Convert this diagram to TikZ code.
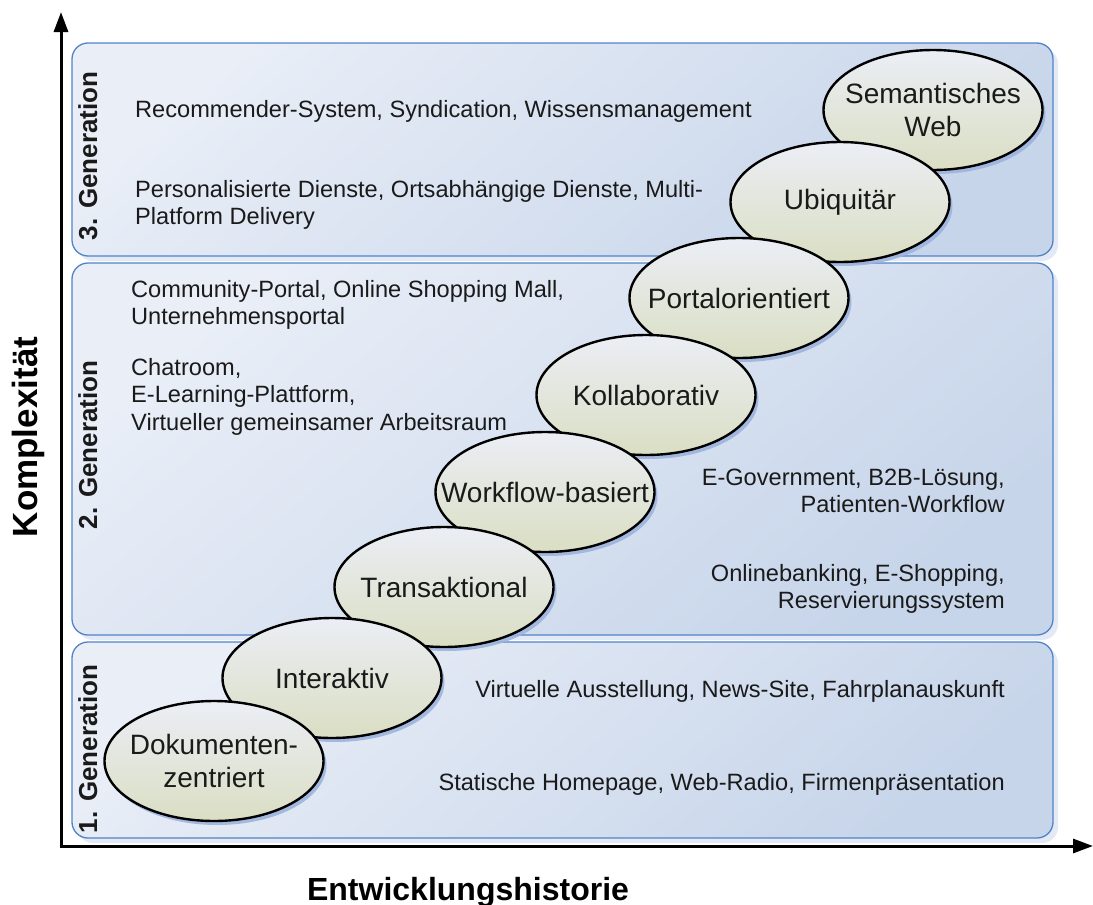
\documentclass[tikz,border=0pt]{standalone}
\usepackage{fontspec}
\setmainfont{Liberation Sans}
\usetikzlibrary{arrows.meta,shapes.geometric,shadows}

\definecolor{bandhi}{HTML}{E9EEF7}
\definecolor{bandlo}{HTML}{C7D5EA}
\definecolor{bandline}{HTML}{5283C8}
\definecolor{bandglow}{HTML}{E3EAF5}
\definecolor{ellhi}{HTML}{EBEEF5}
\definecolor{elllo}{HTML}{DADEC3}
\definecolor{ellshadow}{HTML}{9CB3DD}
\definecolor{ink}{HTML}{1A1A1A}

\begin{document}
\begin{tikzpicture}[x=1pt,y=-1pt,
  band/.style={draw=bandline, line width=1.3pt, rounded corners=16pt,
    top color=bandhi, bottom color=bandlo, shading angle=40,
    minimum width=981pt, inner sep=0pt,
    drop shadow={shadow xshift=5pt, shadow yshift=-5pt, fill=bandglow, opacity=1}},
  genlabel/.style={rotate=90, anchor=base, inner sep=0pt,
    font=\fontsize{26}{30}\selectfont\bfseries, text=ink},
  item/.style={inner sep=0pt, align=left, text=ink,
    font=\fontsize{23.6}{27.5}\selectfont, execute at begin node=\strut},
  itemr/.style={item, align=right, anchor=north east},
  phase/.style={ellipse, draw=black, line width=2.4pt, inner sep=0pt,
    minimum width=219pt, minimum height=120pt,
    top color=ellhi, bottom color=elllo,
    drop shadow={shadow xshift=3pt, shadow yshift=-4pt, fill=ellshadow, opacity=0.9}},
  phasetext/.style={inner sep=0pt, align=center, text=ink,
    font=\fontsize{28}{33}\selectfont},
  axis/.style={line width=3pt, -{Triangle[length=20pt,width=14pt]}},
  axislabel/.style={inner sep=0pt, anchor=base, font=\bfseries}
]
\useasboundingbox (0,0) rectangle (1093,905);

% generation bands
\node[band, minimum height=213pt] (gen3) at (562.5,149.5) {};
\node[band, minimum height=372pt] (gen2) at (562.5,449) {};
\node[band, minimum height=196pt] (gen1) at (562.5,740) {};

\node[genlabel] (gen3lbl) at (97,156) {3. Generation};
\node[genlabel] (gen2lbl) at (97,445) {2. Generation};
\node[genlabel] (gen1lbl) at (97,749) {1. Generation};

% example applications
\node[item, anchor=north west] (rec) at (135,97.75)
  {Recommender-System, Syndication, Wissensmanagement};
\node[item, anchor=north west] (pers) at (135,179.75)
  {Personalisierte Dienste, Ortsabhängige Dienste, Multi-\\Platform Delivery};
\node[item, anchor=north west] (comm) at (131,279.75)
  {Community-Portal, Online Shopping Mall,\\Unternehmensportal};
\node[item, anchor=north west] (chat) at (131,357.75)
  {Chatroom,\\E-Learning-Plattform,\\Virtueller gemeinsamer Arbeitsraum};
\node[itemr] (egov) at (1005,468.75)
  {E-Government, B2B-Lösung,\\Patienten-Workflow};
\node[itemr] (bank) at (1005,563.75)
  {Onlinebanking, E-Shopping,\\Reservierungssystem};
\node[itemr] (virt) at (1005,677.75)
  {Virtuelle Ausstellung, News-Site, Fahrplanauskunft};
\node[itemr] (stat) at (1005,770.75)
  {Statische Homepage, Web-Radio, Firmenpräsentation};

% development stages, later stages underneath earlier ones
\node[phase, label={[phasetext]center:{Semantisches\\Web}}] (sem) at (933,110) {};
\node[phase, label={[phasetext]center:{Ubiquitär}}] (ubi) at (840,202) {};
\node[phase, label={[phasetext]center:{Portalorientiert}}] (portal) at (739,298) {};
\node[phase, label={[phasetext]center:{Kollaborativ}}] (koll) at (646,395) {};
\node[phase, label={[phasetext]center:{Workflow-basiert}}] (work) at (545,492) {};
\node[phase, label={[phasetext]center:{Transaktional}}] (trans) at (444,587) {};
\node[phase, label={[phasetext]center:{Interaktiv}}] (inter) at (332,678) {};
\node[phase, label={[phasetext]center:{Dokumenten-\\zentriert}}] (doku) at (214,761) {};

% axes
\coordinate (origin) at (61,846);
\coordinate (ytip) at (61,12);
\coordinate (xtip) at (1093,846);
\draw[axis] ([yshift=-1.5pt]origin) -- (ytip);
\draw[axis] ([xshift=-1.5pt]origin) -- (xtip);

\node[axislabel, rotate=90, font=\fontsize{35}{41}\selectfont\bfseries] (ylbl) at (37,437) {Komplexität};
\node[axislabel, font=\fontsize{32}{38}\selectfont\bfseries] (xlbl) at (468,900) {Entwicklungshistorie};
\end{tikzpicture}
\end{document}
